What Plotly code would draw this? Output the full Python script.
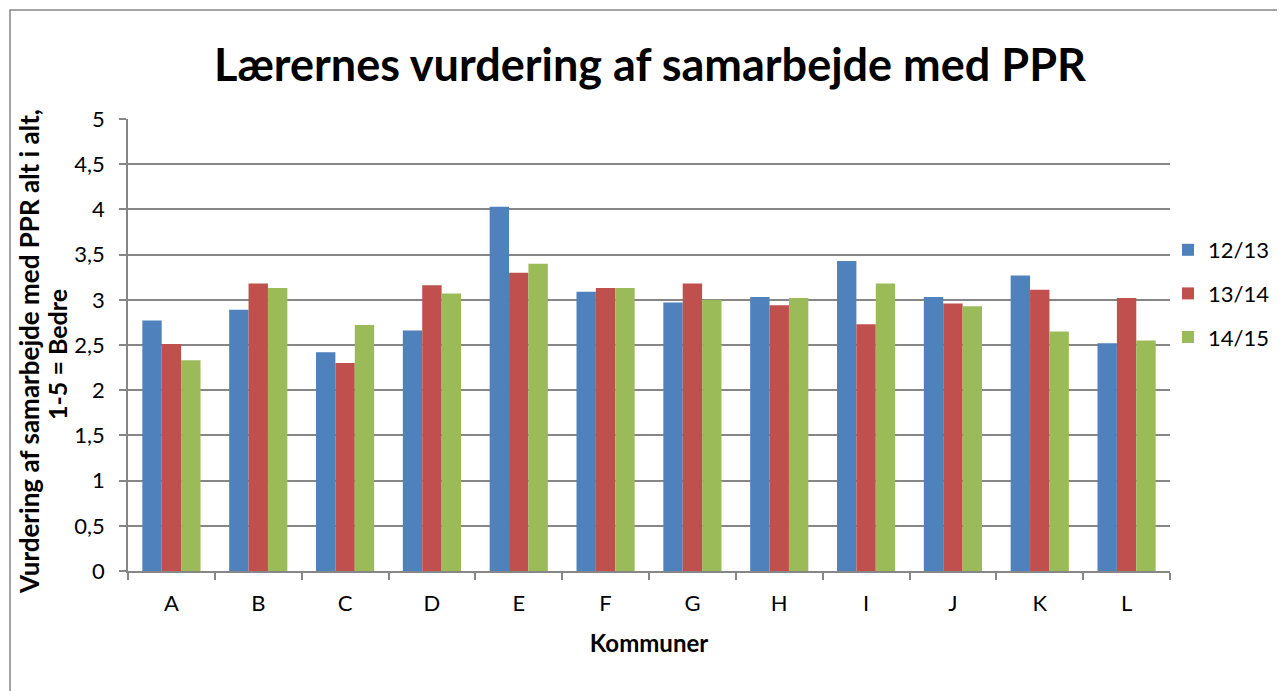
import plotly.graph_objects as go

categories = ["A", "B", "C", "D", "E", "F", "G", "H", "I", "J", "K", "L"]
series_names = ["12/13", "13/14", "14/15"]
v_1213 = [2.77, 2.89, 2.42, 2.66, 4.03, 3.09, 2.97, 3.03, 3.43, 3.03, 3.27, 2.52]
v_1314 = [2.51, 3.18, 2.30, 3.16, 3.30, 3.13, 3.18, 2.94, 2.73, 2.96, 3.11, 3.02]
v_1415 = [2.33, 3.13, 2.72, 3.07, 3.40, 3.13, 3.00, 3.02, 3.18, 2.93, 2.65, 2.55]
y_tickvals = [0, 0.5, 1, 1.5, 2, 2.5, 3, 3.5, 4, 4.5, 5]
y_ticktext = ["0", "0,5", "1", "1,5", "2", "2,5", "3", "3,5", "4", "4,5", "5"]
colors = ["#4F81BD", "#C0504D", "#9BBB59"]

FONT = "Lato, Open Sans, sans-serif"
OFF = 8  # page body margin
W, H = 1285, 691
L, R, T, B = 120, 123, 111, 128

fig = go.Figure()
for name, vals, col in zip(series_names, [v_1213, v_1314, v_1415], colors):
    fig.add_trace(go.Bar(x=categories, y=vals, name=name, marker_color=col,
                         marker_line_width=0, legendgroup=name))

pw = W - L - R
ph = H - T - B
def px(x):
    return (x - OFF - L) / pw
def py(y):
    return (H - B - (y - OFF)) / ph

fig.update_layout(
    width=W, height=H,
    margin=dict(l=L, r=R, t=T, b=B),
    paper_bgcolor="white", plot_bgcolor="white",
    barmode="group", bargap=0.33, bargroupgap=0,
    font=dict(family=FONT, size=22, color="black"),
    title=dict(text="<b>Lærernes vurdering af samarbejde med PPR</b>",
               x=px(650), xanchor="center", xref="paper",
               y=1 - (65 - OFF) / H, yanchor="middle",
               font=dict(family=FONT, size=45, color="black")),
    legend=dict(x=px(1168), xanchor="left", y=py(229), yanchor="top",
                font=dict(size=22), tracegroupgap=12, itemwidth=30,
                bgcolor="rgba(0,0,0,0)"),
    xaxis=dict(showline=True, linecolor="#868686", linewidth=1.5,
               ticks="outside", ticklen=7, tickcolor="#868686", tickwidth=1.5,
               tickson="boundaries", showgrid=False, ticklabelstandoff=12,
               tickfont=dict(size=22),
               title=dict(text="<b>Kommuner</b>", font=dict(size=24), standoff=20)),
    yaxis=dict(range=[0, 5], tickvals=y_tickvals, ticktext=y_ticktext,
               showline=True, linecolor="#868686", linewidth=1.5,
               ticks="outside", ticklen=7, tickcolor="#868686", tickwidth=1.5,
               showgrid=True, gridcolor="#868686", gridwidth=1.5,
               zeroline=False, tickfont=dict(size=22), ticklabelstandoff=10),
    shapes=[dict(type="rect", xref="paper", yref="paper",
                 x0=px(10), x1=px(1320), y0=py(720), y1=py(10),
                 line=dict(color="#868686", width=1.5), layer="below")],
    annotations=[
        dict(text="<b>Vurdering af samarbejde med PPR alt i alt,</b>",
             xref="paper", yref="paper", x=px(29), y=py(352),
             xanchor="center", yanchor="middle", textangle=-90,
             showarrow=False, font=dict(family=FONT, size=26, color="black")),
        dict(text="<b>1-5 = Bedre</b>",
             xref="paper", yref="paper", x=px(57), y=py(355),
             xanchor="center", yanchor="middle", textangle=-90,
             showarrow=False, font=dict(family=FONT, size=25, color="black")),
    ],
)

fig.write_html("out.html")
